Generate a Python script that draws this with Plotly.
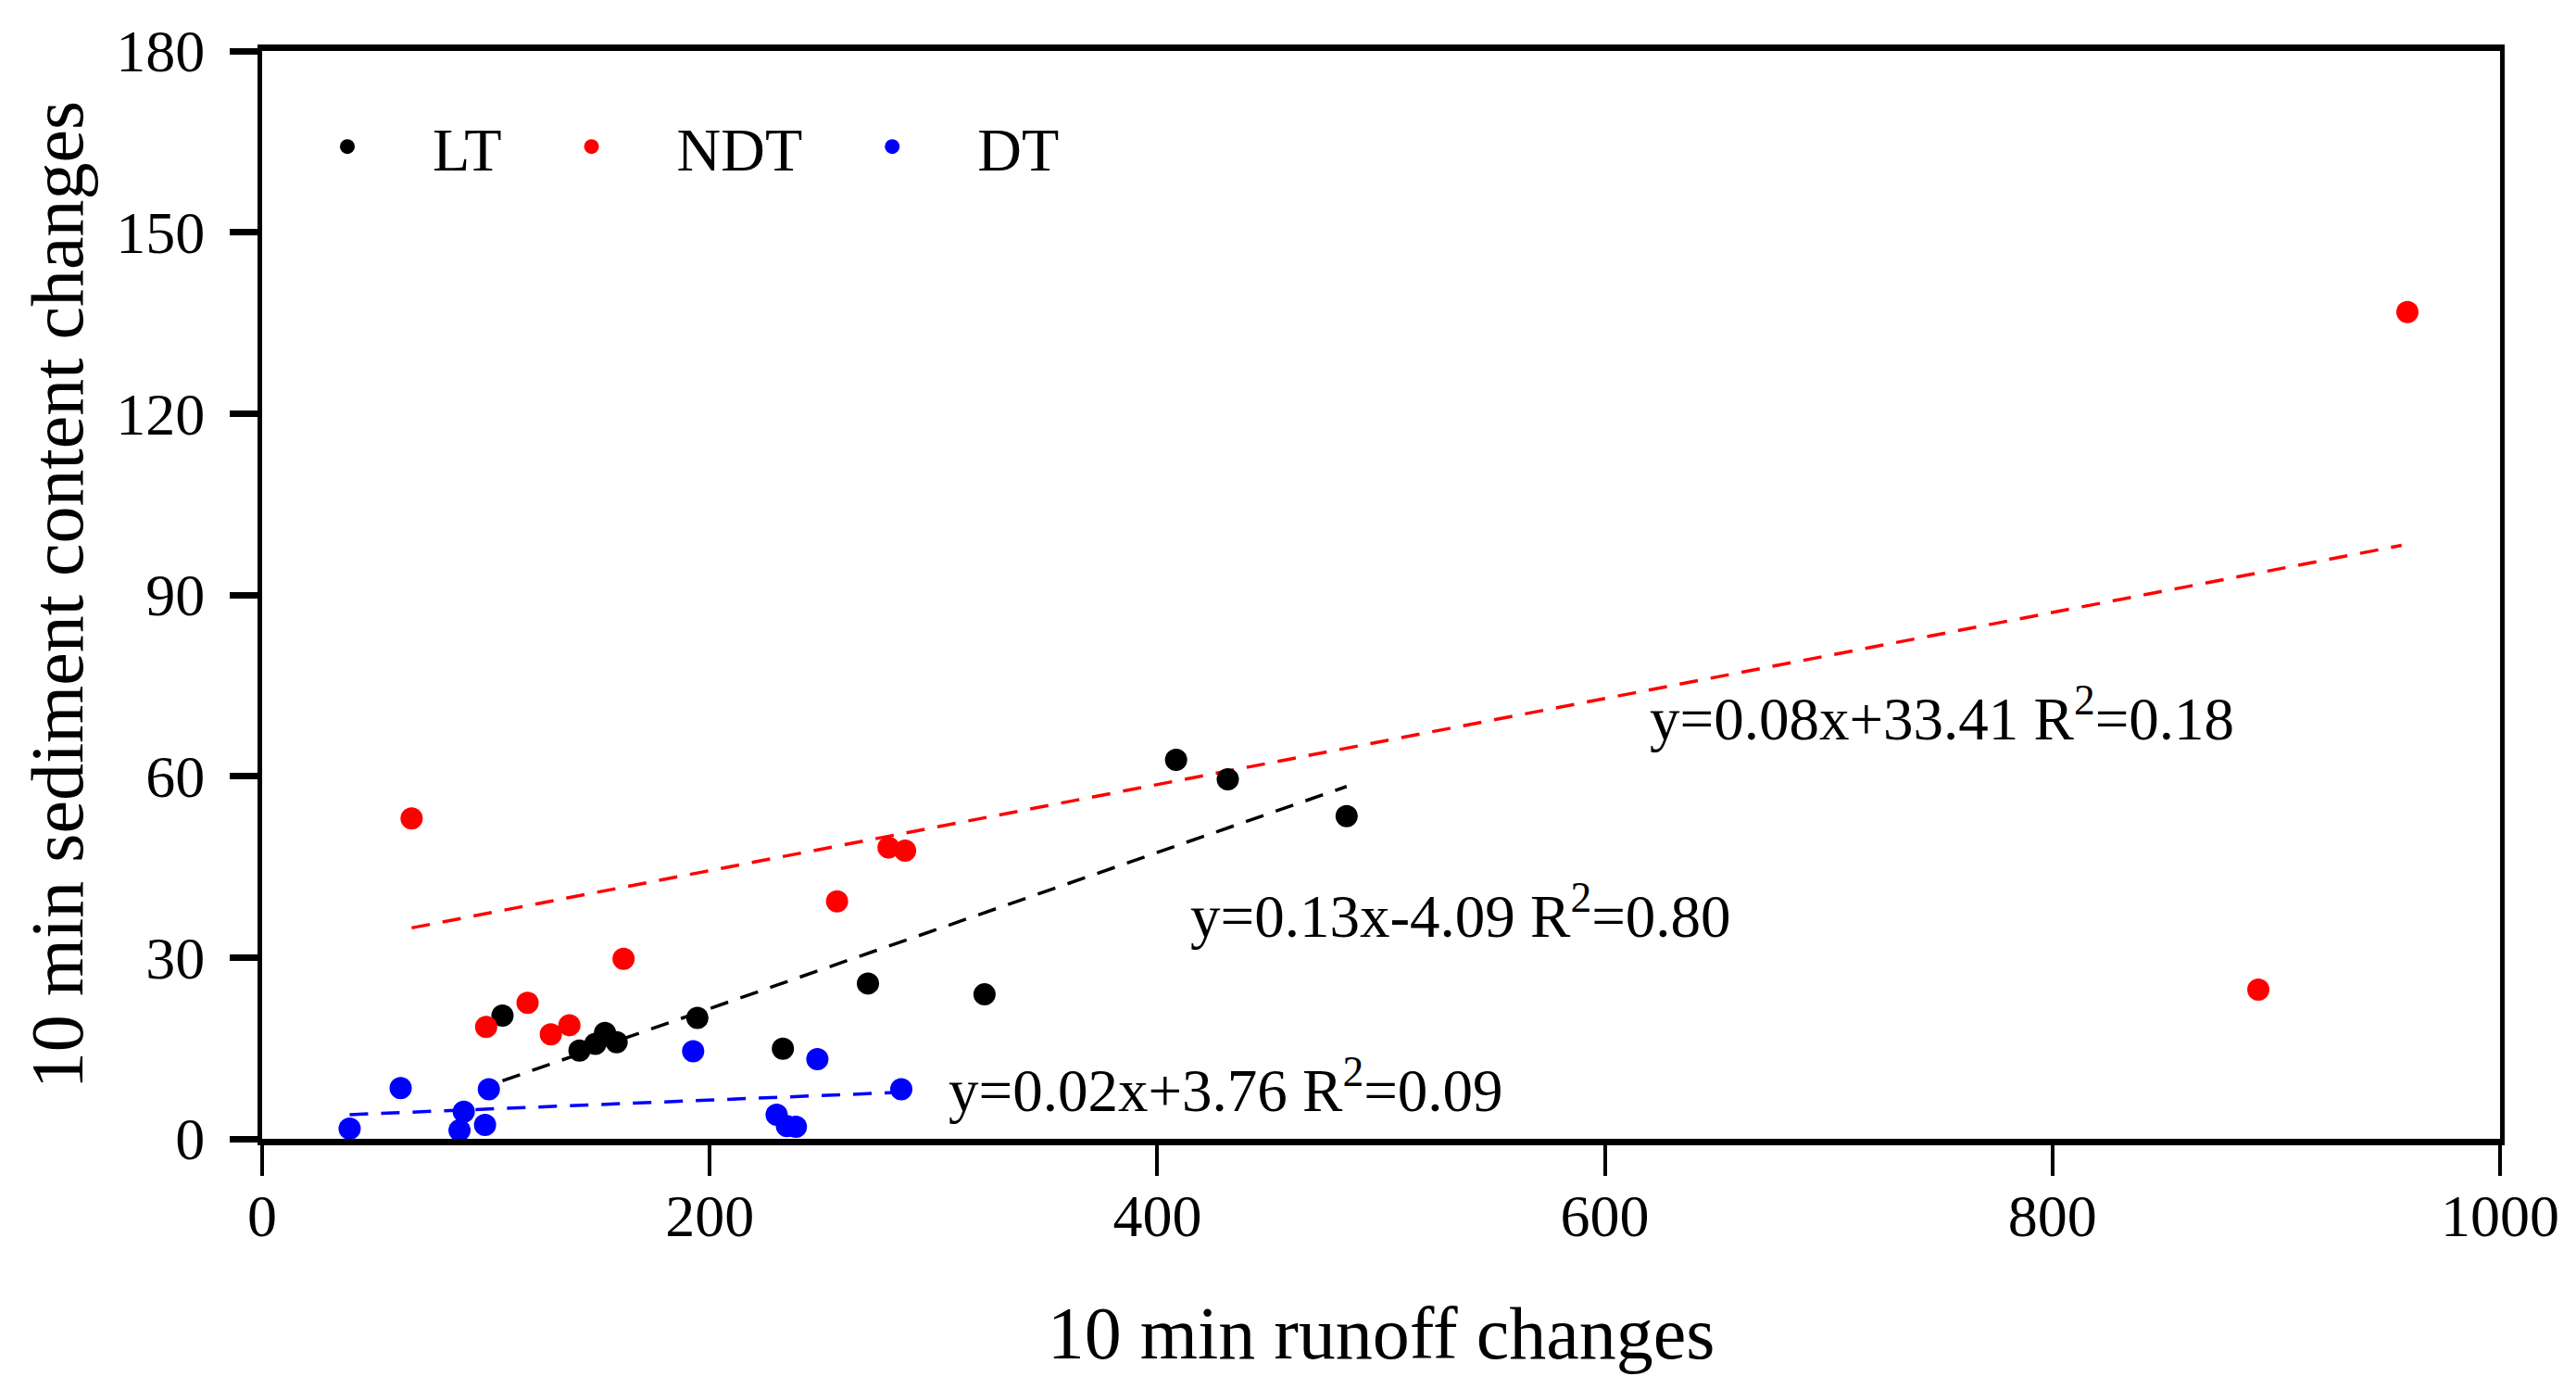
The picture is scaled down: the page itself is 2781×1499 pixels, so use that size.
import plotly.graph_objects as go

# ---- data ----
lt_x = [107.4, 141.8, 148.9, 153.2, 158.4, 194.5, 232.7, 270.7, 322.8, 408.4, 431.5, 484.6]
lt_y = [20.4, 14.6, 15.7, 17.5, 16.0, 20.0, 14.9, 25.7, 23.9, 62.7, 59.5, 53.4]

ndt_x = [66.8, 100.1, 118.6, 129.0, 137.3, 161.5, 256.9, 279.9, 287.3, 892.0, 958.6]
ndt_y = [53.0, 18.5, 22.5, 17.3, 18.8, 29.8, 39.3, 48.2, 47.7, 24.7, 136.8]

dt_x = [39.1, 61.9, 88.2, 90.1, 99.6, 101.3, 192.6, 229.9, 234.5, 238.5, 248.1, 285.6]
dt_y = [1.7, 8.4, 1.4, 4.5, 2.3, 8.2, 14.5, 4.0, 2.1, 2.0, 13.2, 8.2]

# trend line end points as drawn
lt_fit_x = [107.4, 484.6]
lt_fit_y = [9.6, 58.3]
ndt_fit_x = [66.8, 956.0]
ndt_fit_y = [34.9, 98.2]
dt_fit_x = [39.1, 285.6]
dt_fit_y = [4.0, 7.7]

eq_text = ["y=0.08x+33.41 R<sup>2</sup>=0.18",
           "y=0.13x-4.09 R<sup>2</sup>=0.80",
           "y=0.02x+3.76 R<sup>2</sup>=0.09"]
eq_x = [619, 414, 306]
eq_y = [70.2, 37.6, 8.7]

x_ticks = [0, 200, 400, 600, 800, 1000]
y_ticks = [0, 30, 60, 90, 120, 150, 180]

FONT = "Liberation Serif"
series_names = ["LT", "NDT", "DT"]
colors = ["#000000", "#ff0000", "#0000ff"]

fig = go.Figure()

# dashed trend lines
for fx, fy, c in [(lt_fit_x, lt_fit_y, colors[0]), (ndt_fit_x, ndt_fit_y, colors[1]), (dt_fit_x, dt_fit_y, colors[2])]:
    fig.add_trace(go.Scatter(x=fx, y=fy, mode="lines", showlegend=False,
                             line=dict(color=c, width=3.5, dash="20px,14px")))

for name, xs, ys, c in [("LT", lt_x, lt_y, colors[0]), ("NDT", ndt_x, ndt_y, colors[1]), ("DT", dt_x, dt_y, colors[2])]:
    fig.add_trace(go.Scatter(x=xs, y=ys, mode="markers", name=name,
                             marker=dict(color=c, size=24, line=dict(width=0))))

for t, ex, ey in zip(eq_text, eq_x, eq_y):
    fig.add_annotation(x=ex, y=ey, xref="x", yref="y", text=t, showarrow=False,
                       xanchor="left", yanchor="middle",
                       font=dict(family=FONT, size=65, color="black"))

fig.update_layout(
    width=2781, height=1499,
    margin=dict(l=275, r=90, t=47, b=278),
    paper_bgcolor="white", plot_bgcolor="white",
    font=dict(family=FONT, size=64, color="black"),
    legend=dict(orientation="h", x=0.0, y=0.912, xanchor="left", yanchor="middle",
                font=dict(family=FONT, size=66, color="black"),
                itemwidth=174, bgcolor="rgba(0,0,0,0)"),
)

fig.update_xaxes(range=[0, 1000], tickvals=x_ticks, ticks="outside", ticklen=33, tickwidth=4,
                 tickcolor="black", showline=True, linewidth=7, linecolor="black", mirror=True,
                 showgrid=False, zeroline=False, ticklabelstandoff=-12,
                 tickfont=dict(family=FONT, size=64, color="black"),
                 title=dict(text="10 min runoff changes", font=dict(family=FONT, size=80, color="black"),
                            standoff=66))
fig.update_yaxes(range=[0, 180], tickvals=y_ticks, ticks="outside", ticklen=30, tickwidth=7,
                 tickcolor="black", showline=True, linewidth=5, linecolor="black", mirror=True,
                 showgrid=False, zeroline=False, ticklabelstandoff=14,
                 tickfont=dict(family=FONT, size=64, color="black"),
                 title=dict(text="10 min sediment content changes", font=dict(family=FONT, size=80, color="black"),
                            standoff=11))

fig.write_html("out.html")
